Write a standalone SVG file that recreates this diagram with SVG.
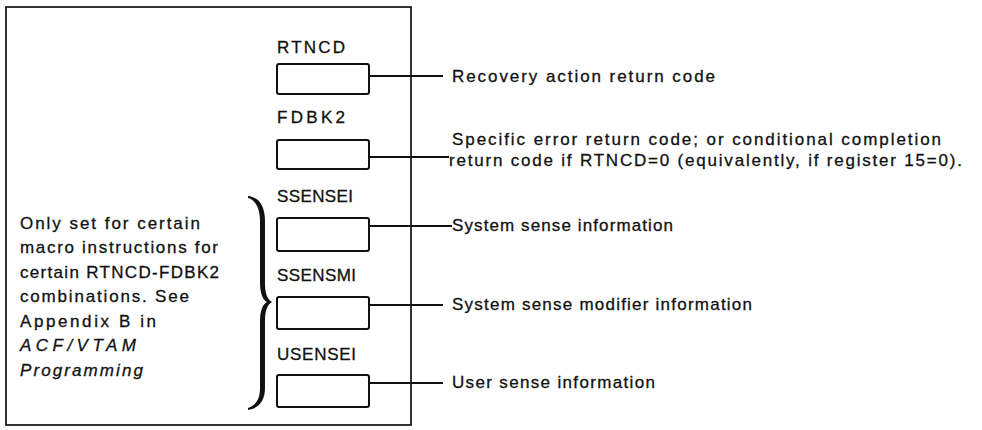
<svg xmlns="http://www.w3.org/2000/svg" width="982" height="430" viewBox="0 0 982 430">
  <style>
    .frame { fill: none; stroke: #111; stroke-width: 1.7; }
    .field { fill: #fff; stroke: #111; stroke-width: 2; }
    .lead { fill: none; stroke: #111; stroke-width: 1.8; }
    text { font-family: "Liberation Sans", Arial, sans-serif; font-size: 17px; fill: #111; stroke: #111; stroke-width: 0.3; }
    .it { font-style: italic; }
  </style>
  <rect width="982" height="430" fill="#fff"/>

  <!-- outer frame -->
  <rect class="frame" x="6" y="7" width="405" height="418"/>

  <!-- field boxes with their names -->
  <g id="rtncd">
    <text x="277" y="53" textLength="68" lengthAdjust="spacing">RTNCD</text>
    <rect class="field" x="277" y="64" width="92" height="30" rx="2"/>
  </g>
  <g id="fdbk2">
    <text x="277" y="123" textLength="68" lengthAdjust="spacing">FDBK2</text>
    <rect class="field" x="277" y="140" width="92" height="29" rx="2"/>
  </g>
  <g id="ssensei">
    <text x="277" y="202" textLength="76" lengthAdjust="spacing">SSENSEI</text>
    <rect class="field" x="277" y="218" width="92" height="33" rx="2"/>
  </g>
  <g id="ssensmi">
    <text x="277" y="281" textLength="79" lengthAdjust="spacing">SSENSMI</text>
    <rect class="field" x="277" y="297" width="92" height="32" rx="2"/>
  </g>
  <g id="usensei">
    <text x="277" y="360" textLength="79" lengthAdjust="spacing">USENSEI</text>
    <rect class="field" x="277" y="375" width="92" height="32" rx="2"/>
  </g>

  <!-- descriptions -->
  <g id="desc-rtncd">
    <text x="452" y="82" textLength="263" lengthAdjust="spacing">Recovery action return code</text>
  </g>
  <g id="desc-fdbk2">
    <text x="452" y="145" textLength="489" lengthAdjust="spacing">Specific error return code; or conditional completion</text>
    <text x="449" y="166" textLength="513" lengthAdjust="spacing">return code if RTNCD=0 (equivalently, if register 15=0).</text>
  </g>
  <g id="desc-ssensei">
    <text x="452" y="231" textLength="221" lengthAdjust="spacing">System sense information</text>
  </g>
  <g id="desc-ssensmi">
    <text x="452" y="310" textLength="300" lengthAdjust="spacing">System sense modifier information</text>
  </g>
  <g id="desc-usensei">
    <text x="452" y="388" textLength="203" lengthAdjust="spacing">User sense information</text>
  </g>

  <!-- note on the sense fields -->
  <g id="note">
    <text x="20" y="229" textLength="180" lengthAdjust="spacing">Only set for certain</text>
    <text x="20" y="253" textLength="198" lengthAdjust="spacing">macro instructions for</text>
    <text x="20" y="278" textLength="199" lengthAdjust="spacing">certain RTNCD-FDBK2</text>
    <text x="20" y="302" textLength="169" lengthAdjust="spacing">combinations.  See</text>
    <text x="20" y="327" textLength="136" lengthAdjust="spacing">Appendix B in</text>
    <text class="it" x="20" y="351" textLength="116" lengthAdjust="spacing">ACF/VTAM</text>
    <text class="it" x="20" y="376" textLength="123" lengthAdjust="spacing">Programming</text>
  </g>
  <g id="brace">
    <path fill="#111" d="M248,196 C259,197 265,206 265,221 L265,283 C265,293 267,299 272,302 C267,305 265,311 265,321 L265,388 C265,401 259,408 248,410 L248,408 C256,405 260,399 260,388 L260,322 C260,310 263,304 267,302 C263,300 260,294 260,282 L260,222 C260,209 256,200 248,198 Z"/>
  </g>

  <!-- leader lines from each field to its description -->
  <g id="connectors">
    <line class="lead" x1="369" y1="76" x2="443" y2="76"/>
    <line class="lead" x1="369" y1="157" x2="449" y2="157"/>
    <line class="lead" x1="369" y1="226" x2="452" y2="226"/>
    <line class="lead" x1="369" y1="305" x2="443" y2="305"/>
    <line class="lead" x1="369" y1="383" x2="443" y2="383"/>
  </g>
</svg>
